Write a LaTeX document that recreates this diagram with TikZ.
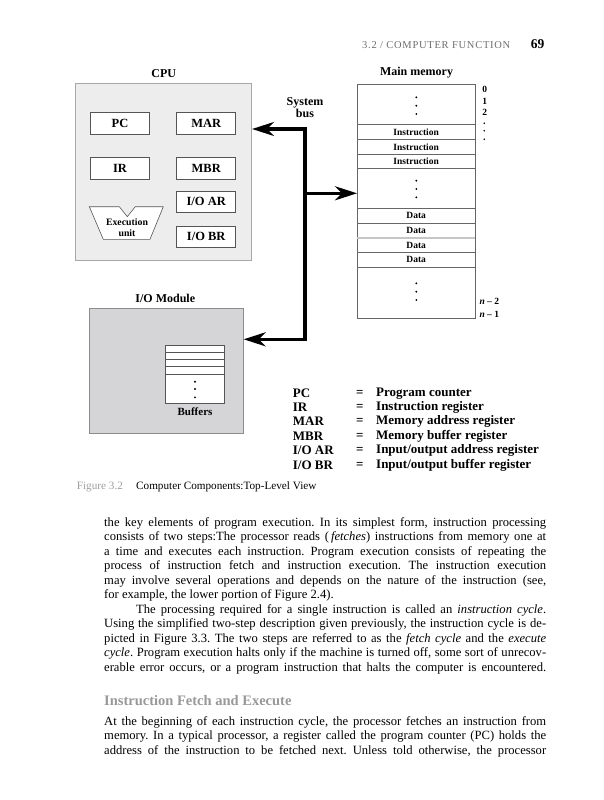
\documentclass[tikz,border=0pt]{standalone}
\usepackage{fontspec}
\setmainfont{Liberation Serif}
\usetikzlibrary{arrows.meta}
\frenchspacing
\definecolor{cpufill}{HTML}{EDEDED}
\definecolor{cpuline}{HTML}{A8A8A8}
\definecolor{iofill}{HTML}{D5D5D7}
\definecolor{ioline}{HTML}{8C8C8C}
\definecolor{regline}{HTML}{555555}
\definecolor{memline}{HTML}{666666}
\definecolor{headgray}{HTML}{6E6E6E}
\newcommand\bdyfont{\fontsize{12.6}{14.5}\selectfont}
\tikzset{
  bustip/.tip={Stealth[length=22pt,width=14pt,inset=7pt]},
  bus/.style={line width=3.3pt, draw=black, line join=miter},
  title/.style={font=\fontsize{12}{13}\selectfont\bfseries, inner sep=0pt, align=center},
  regbox/.style={draw=regline, fill=white, line width=0.6pt, font=\fontsize{12.5}{14}\selectfont\bfseries, minimum width=59pt, minimum height=21.7pt, inner sep=0pt},
  cell/.style={draw=memline, line width=0.6pt, font=\fontsize{9.5}{11}\selectfont\bfseries, minimum width=117.7pt, inner sep=0pt},
  addr/.style={font=\fontsize{9.5}{11}\selectfont\bfseries, inner sep=0pt},
  mdot/.style={fill=black, circle, inner sep=0pt, minimum size=2.1pt},
  legend/.style={font=\fontsize{13}{14}\selectfont\bfseries, anchor=west, inner sep=0pt},
  bodyline/.style={anchor=base west, inner sep=0pt, font=\bdyfont},
}
\begin{document}
\begin{tikzpicture}[x=1pt,y=-1pt]
\useasboundingbox[fill=white] (0,0) rectangle (604,800);

% header
\node[anchor=west, inner sep=0pt, text=headgray, font=\fontsize{10.5}{12}\selectfont\addfontfeature{LetterSpace=7}] (hdr) at (362,44.7) {3.2 / COMPUTER FUNCTION};
\node[anchor=east, inner sep=0pt, font=\fontsize{13.5}{15}\selectfont\bfseries] (pg) at (544.5,44.2) {69};

% CPU
\node[title] (cpulbl) at (163.7,73.3) {CPU};
\node[draw=cpuline, fill=cpufill, line width=0.7pt, minimum width=176pt, minimum height=176.7pt, inner sep=0pt] (cpu) at (163.7,171.65) {};
\node[regbox, minimum width=58.6pt] (pc) at (120,123.2) {PC};
\node[regbox] (mar) at (206.2,123.2) {MAR};
\node[regbox, minimum width=58.6pt] (ir) at (120,168.2) {IR};
\node[regbox] (mbr) at (206.2,168.2) {MBR};
\node[regbox] (ioar) at (206.2,201.8) {I/O AR};
\node[regbox, minimum height=21.3pt] (iobr) at (206.2,236.7) {I/O BR};
\draw[draw=regline, fill=white, line width=0.6pt] (89.3,206.7) -- (119.3,206.7) -- (127.3,216.7) -- (135.3,206.7) -- (163.3,206.7) -- (150,239.3) -- (103.3,239.3) -- cycle;
\node[inner sep=0pt, font=\fontsize{9.8}{11}\selectfont\bfseries] (exe1) at (127,222.6) {Execution};
\node[inner sep=0pt, font=\fontsize{9.8}{11}\selectfont\bfseries] (exe2) at (127,233.3) {unit};

% Main memory
\node[title] (memlbl) at (416.5,73) {Main memory};
\node[draw=memline, fill=white, line width=0.6pt, minimum width=117.7pt, minimum height=234pt, inner sep=0pt] (mem) at (416.15,201) {};
\node[cell, minimum height=15pt] (i1) at (416.15,131.8) {Instruction};
\node[cell, minimum height=15pt] (i2) at (416.15,146.8) {Instruction};
\node[cell, minimum height=14.4pt] (i3) at (416.15,161.5) {Instruction};
\node[cell, minimum height=15pt] (d1) at (416.15,215.8) {Data};
\node[cell, minimum height=14.4pt] (d2) at (416.15,230.5) {Data};
\node[cell, minimum height=14.6pt] (d3) at (416.15,245) {Data};
\node[cell, minimum height=15pt] (d4) at (416.15,259.8) {Data};
\draw[gray!45, line width=1.3pt] (d2.south west) -- (d2.south east);
\foreach \y [count=\i] in {97.3,105.7,114,180.7,189,197.3,283.3,291.7,300} {
  \node[mdot] (md\i) at (416.3,\y) {};
}
\node[addr] (a0) at (484.7,89) {0};
\node[addr] (a1) at (484.7,101.7) {1};
\node[addr] (a2) at (484.7,112.3) {2};
\foreach \y [count=\i] in {123.3,130.7,139.3} {
  \node[mdot, minimum size=1.8pt] (ad\i) at (484.2,\y) {};
}
\node[addr, anchor=west] (an2) at (479.3,301.7) {\textit{n} – 2};
\node[addr, anchor=west] (an1) at (479.3,314) {\textit{n} – 1};

% I/O module
\node[title] (iolbl) at (165.3,298.3) {I/O Module};
\node[draw=ioline, fill=iofill, line width=0.7pt, minimum width=154.3pt, minimum height=125pt, inner sep=0pt] (io) at (166.15,370.8) {};
\node[draw=regline, fill=white, line width=0.6pt, minimum width=58.6pt, minimum height=58.3pt, inner sep=0pt] (buf) at (195,374.15) {};
\foreach \y in {352,359,366.7,374.3} {
  \draw[draw=regline, line width=0.6pt] (buf.west |- 0,\y) -- (buf.east |- 0,\y);
}
\foreach \y [count=\i] in {381.7,389,397.3} {
  \node[mdot] (bd\i) at (195,\y) {};
}
\node[inner sep=0pt, font=\fontsize{11}{12}\selectfont\bfseries] (buflbl) at (195,411.7) {Buffers};

% System bus
\node[title] (buslbl) at (305,107.5) {System\\[-1pt]bus};
\coordinate (bustop) at (305,129);
\coordinate (busmid) at (305,193.3);
\coordinate (busbot) at (305,339.3);
\draw[bus, {bustip}-{bustip}] (bustop -| cpu.east) -- (bustop) -- (busbot) -- (busbot -| io.east);
\draw[bus, -{bustip}] (busmid) -- (busmid -| mem.west);

% legend
\foreach \a/\d/\y [count=\i] in {PC/Program counter/393.3, IR/Instruction register/407.7, MAR/Memory address register/421.7, MBR/Memory buffer register/436, I\slash O AR/Input\slash output address register/450, I\slash O BR/Input\slash output buffer register/465} {
  \node[legend] (la\i) at (292.7,\y) {\a};
  \node[legend, anchor=center] (le\i) at (359.8,\y) {=};
  \node[legend] (ld\i) at (376,\y) {\d};
}

% caption
\node[anchor=west, inner sep=0pt, text=gray!75, font=\fontsize{11.2}{13}\selectfont] (figno) at (76.7,486.9) {Figure 3.2};
\node[anchor=west, inner sep=0pt, font=\fontsize{11.2}{13}\selectfont] (figcap) at (136,486.9) {Computer Components:Top-Level View};

% body text
\node[bodyline] (t1) at (104,526.3) {\makebox[442pt][s]{the key elements of program execution. In its simplest form, instruction processing}};
\node[bodyline] (t2) at (104,540.8) {\makebox[442pt][s]{consists of two steps:The processor reads (\,\textit{fetches}) instructions from memory one at}};
\node[bodyline] (t3) at (104,555.3) {\makebox[442pt][s]{a time and executes each instruction. Program execution consists of repeating the}};
\node[bodyline] (t4) at (104,569.8) {\makebox[442pt][s]{process of instruction fetch and instruction execution. The instruction execution}};
\node[bodyline] (t5) at (104,584.3) {\makebox[442pt][s]{may involve several operations and depends on the nature of the instruction (see,}};
\node[bodyline] (t6) at (104,598.8) {for example, the lower portion of Figure 2.4).};
\node[bodyline] (t7) at (136,613.3) {\makebox[410pt][s]{The processing required for a single instruction is called an \textit{instruction cycle}.}};
\node[bodyline] (t8) at (104,627.8) {\makebox[442pt][s]{Using the simplified two-step description given previously, the instruction cycle is de-}};
\node[bodyline] (t9) at (104,642.3) {\makebox[442pt][s]{picted in Figure 3.3. The two steps are referred to as the \textit{fetch cycle} and the \textit{execute}}};
\node[bodyline] (t10) at (104,656.8) {\makebox[442pt][s]{\textit{cycle}. Program execution halts only if the machine is turned off, some sort of unrecov-}};
\node[bodyline] (t11) at (104,671.3) {\makebox[442pt][s]{erable error occurs, or a program instruction that halts the computer is encountered.}};
\node[anchor=base west, inner sep=0pt, text=gray!80, font=\fontsize{14.5}{16}\selectfont\bfseries] (head) at (104,705) {Instruction Fetch and Execute};
\node[bodyline] (t12) at (104,725) {\makebox[442pt][s]{At the beginning of each instruction cycle, the processor fetches an instruction from}};
\node[bodyline] (t13) at (104,739.5) {\makebox[442pt][s]{memory. In a typical processor, a register called the program counter (PC) holds the}};
\node[bodyline] (t14) at (104,754) {\makebox[442pt][s]{address of the instruction to be fetched next. Unless told otherwise, the processor}};
\end{tikzpicture}
\end{document}
